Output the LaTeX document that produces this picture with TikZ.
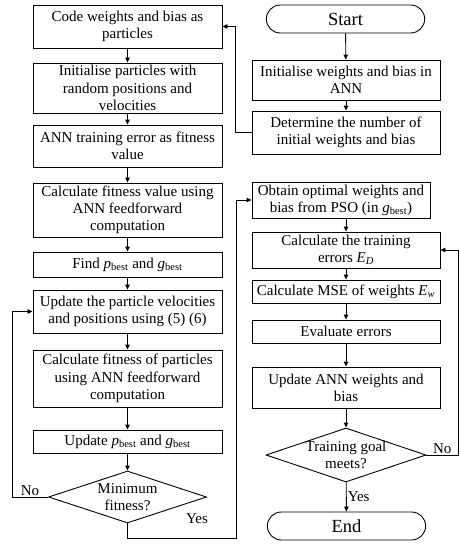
\documentclass[tikz,border=0pt]{standalone}
\usepackage{fontspec}
\setmainfont{Liberation Serif}
\usetikzlibrary{shapes.geometric,shapes.misc,arrows.meta}

\begin{document}
\begin{tikzpicture}[x=1pt,y=-1pt,
    line width=0.9pt, >={Triangle[length=5pt,width=4.5pt]},
    block/.style ={rectangle, draw, align=center, inner sep=2pt, minimum width=189pt,
      font=\fontsize{15}{17.2}\selectfont},
    decision/.style ={diamond, draw, align=center, aspect=2.9, inner sep=-3pt,
      font=\fontsize{15}{17.2}\selectfont},
    terminal/.style ={rounded rectangle, draw, minimum width=165pt, minimum height=28pt,
      font=\fontsize{18.5}{20}\selectfont},
    answer/.style ={font=\fontsize{15}{17.2}\selectfont, inner sep=1pt}]
   \useasboundingbox (0,0) rectangle (460,544);

   % PSO column
   \node[block, minimum height=43pt] (code)  at (127.5,26.5)  {Code weights and bias as\\particles};
   \node[block, minimum height=50pt] (initp)  at (127.5,88)  {Initialise particles with\\random positions and\\velocities};
   \node[block, minimum height=42pt] (annerr)  at (127.5,146)  {ANN training error as fitness\\value};
   \node[block, minimum height=54pt] (calcfit)  at (127.5,210)  {Calculate fitness value using\\ANN feedforward\\computation};
   \node[block, minimum height=25pt] (findbest)  at (127.5,264.5)  {Find \textit{p}\textsubscript{best} and \textit{g}\textsubscript{best}};
   \node[block, minimum height=43pt] (upvel)  at (127.5,311.5)  {Update the particle velocities\\and positions using (5) (6)};
   \node[block, minimum height=57pt] (calcpart)  at (127.5,378.5)  {Calculate fitness of particles\\using ANN feedforward\\computation};
   \node[block, minimum height=23pt] (upbest)  at (127.5,441.5)  {Update \textit{p}\textsubscript{best} and \textit{g}\textsubscript{best}};
   \node[decision, minimum width=158pt, minimum height=52pt] (minfit)  at (127.5,497)  {Minimum\\fitness?};

   % ANN column
   \node[terminal] (start)  at (345.5,19)  {Start};
   \node[block, minimum width=188pt, minimum height=40pt] (initw)  at (346,80)  {Initialise weights and bias in\\ANN};
   \node[block, minimum width=188pt, minimum height=43pt] (determ)  at (346,132.5)  {Determine the number of\\initial weights and bias};
   \node[block, minimum width=178pt, minimum height=36pt] (obtain)  at (341,200)  {Obtain optimal weights and\\bias from PSO (in \textit{g}\textsubscript{best})};
   \node[block, minimum width=188pt, minimum height=36pt] (calctrain)  at (346,250)  {Calculate the training\\errors \textit{E\textsubscript{D}}};
   \node[block, minimum width=188pt, minimum height=23pt] (mse)  at (346,291.5)  {Calculate MSE of weights \textit{E\textsubscript{w}}};
   \node[block, minimum width=188pt, minimum height=23pt] (evalerr)  at (346,331.5)  {Evaluate errors};
   \node[block, minimum width=188pt, minimum height=41pt] (upann)  at (346,387.5)  {Update ANN weights and\\bias};
   \node[decision, minimum width=160pt, minimum height=54pt] (traingoal)  at (346,455)  {Training goal\\meets?};
   \node[terminal] (end)  at (346.5,526)  {End};

   \draw[->] (code) to (initp);
   \draw[->] (initp) to (annerr);
   \draw[->] (annerr) to (calcfit);
   \draw[->] (calcfit) to (findbest);
   \draw[->] (findbest) to (upvel);
   \draw[->] (upvel) to (calcpart);
   \draw[->] (calcpart) to (upbest);
   \draw[->] (upbest) to (minfit);

   \draw[->] (start) to (initw);
   \draw[->] (initw) to (determ);
   \draw[->] (obtain.south -| calctrain.north) to (calctrain.north);
   \draw[->] (calctrain) to (mse);
   \draw[->] (mse) to (evalerr);
   \draw[->] (evalerr) to (upann);
   \draw[->] (upann) to (traingoal);
   \draw[->] (traingoal) to node[answer, right] {Yes} (end);

   % loops between the columns
   \coordinate (psoback) at (236,538);
   \coordinate (goalback) at (458,455);
   \draw[->] (determ.west) -- ++(-16,0) |- (code.east);
   \draw[->] (minfit.west) -- node[answer, above] {No} ++(-36,0) |- (upvel.west);
   \draw[->] (minfit.south) |- (psoback) |- (obtain.west);
   \draw[->] (traingoal.east) -- node[answer, above] {No} (goalback) |- (calctrain.east);
   \node[answer] (yesmin) at (197,519) {Yes};
 \end{tikzpicture}
\end{document}
